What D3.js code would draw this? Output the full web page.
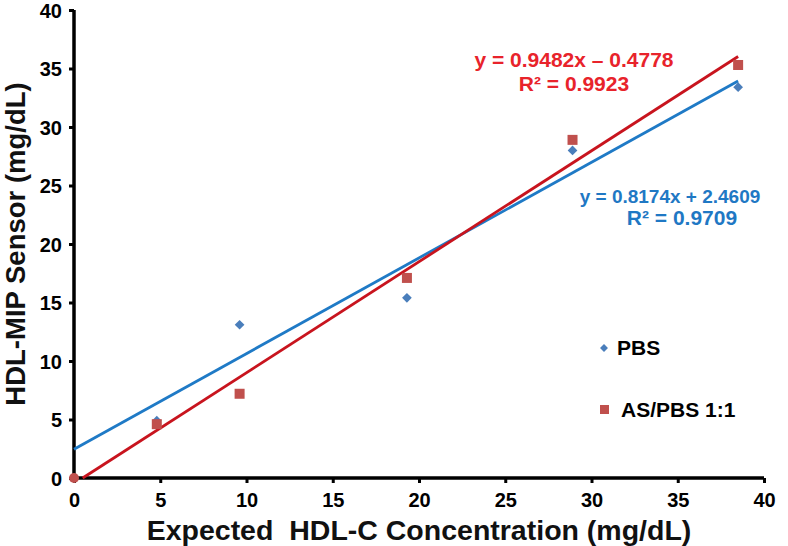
<!DOCTYPE html>
<html>
<head>
<meta charset="utf-8">
<script src="https://cdn.jsdelivr.net/npm/d3@7"></script>
<style>
  html, body { margin: 0; padding: 0; background: #fff; }
  svg { display: block; font-family: "Liberation Sans", Arial, sans-serif; }
</style>
</head>
<body>
<svg id="chart" width="788" height="546"></svg>
<script>
// ---- data ----
const expected = [0, 4.8, 9.6, 19.3, 28.9, 38.5];
const pbsValues = [0, 4.9, 13.1, 15.4, 28.0, 33.4];
const asPbsValues = [0, 4.6, 7.2, 17.1, 28.9, 35.3];
const seriesNames = ["PBS", "AS/PBS 1:1"];
const pbsFit = { slope: 0.8174, intercept: 2.4609, r2: 0.9709 };
const asPbsFit = { slope: 0.9482, intercept: -0.4778, r2: 0.9923 };
const xTicks = [0, 5, 10, 15, 20, 25, 30, 35, 40];
const yTicks = [0, 5, 10, 15, 20, 25, 30, 35, 40];
const xTitle = "Expected\u00A0\u00A0HDL-C Concentration (mg/dL)";
const yTitle = "HDL-MIP Sensor (mg/dL)";

// ---- layout ----
const svg = d3.select("#chart");
const x = d3.scaleLinear().domain([0, 40]).range([74, 764]);
const y = d3.scaleLinear().domain([0, 40]).range([478, 10]);

const blueLine = "#1f7ac6", redLine = "#c8141e";
const blueMark = "#4a7ebb", redMark = "#c0504d";
const blueText = "#1f78c4", redText = "#e8232b";

// axes
const xAxis = d3.axisBottom(x).tickValues(xTicks).tickSize(5).tickPadding(10).tickFormat(d3.format("d"));
const yAxis = d3.axisLeft(y).tickValues(yTicks).tickSize(5).tickPadding(7).tickFormat(d3.format("d"));

const gx = svg.append("g").attr("transform", `translate(0,${y(0)})`).call(xAxis);
const gy = svg.append("g").attr("transform", `translate(${x(0)},0)`).call(yAxis);
[gx, gy].forEach(g => {
  g.select(".domain").attr("stroke", "#000").attr("stroke-width", 3.5);
  g.selectAll(".tick line").attr("stroke", "#000").attr("stroke-width", 3);
  g.selectAll(".tick text").attr("fill", "#000").attr("font-size", 20).attr("font-weight", "bold")
    .attr("font-family", "Liberation Sans, Arial, sans-serif");
});
gx.select(".domain").attr("d", `M${x(0)},0H${x(40)}`);
gy.select(".domain").attr("d", `M0,${y(0)}V${y(40)}`);
gy.selectAll(".tick text").attr("dy", "0.36em");

// trend lines
function fitLine(fit, color) {
  const x0 = Math.max(0, -fit.intercept / fit.slope);
  const x1 = 38.5;
  svg.append("line")
    .attr("x1", x(x0)).attr("y1", y(fit.slope * x0 + fit.intercept))
    .attr("x2", x(x1)).attr("y2", y(fit.slope * x1 + fit.intercept))
    .attr("stroke", color).attr("stroke-width", 2.8);
}
fitLine(pbsFit, blueLine);
fitLine(asPbsFit, redLine);

// markers
const diamond = d3.symbol().type(d3.symbolDiamond2).size(60);
svg.append("g").selectAll("path").data(expected.map((e, i) => [e, pbsValues[i]]))
  .join("path")
  .attr("d", diamond)
  .attr("transform", d => `translate(${x(d[0])},${y(d[1])})`)
  .attr("fill", blueMark);

svg.append("g").selectAll("rect").data(expected.map((e, i) => [e, asPbsValues[i]]))
  .join("rect")
  .attr("x", d => x(d[0]) - 5).attr("y", d => y(d[1]) - 5)
  .attr("width", 10).attr("height", 10)
  .attr("rx", (d, i) => i === 0 ? 5 : 0)
  .attr("fill", redMark);

// equations
const fmt4 = d3.format(".4f");
function eqText(fit) {
  const sign = fit.intercept < 0 ? "\u2013" : "+";
  return `y = ${fmt4(fit.slope)}x ${sign} ${fmt4(Math.abs(fit.intercept))}`;
}
const eqG = svg.append("g").attr("font-weight", "bold").attr("text-anchor", "middle");
eqG.append("text").attr("x", 574).attr("y", 67).attr("font-size", 21).attr("fill", redText).text(eqText(asPbsFit));
eqG.append("text").attr("x", 574).attr("y", 91).attr("font-size", 21).attr("fill", redText).text(`R\u00B2 = ${asPbsFit.r2}`);
eqG.append("text").attr("x", 670).attr("y", 203).attr("font-size", 19).attr("fill", blueText).text(eqText(pbsFit));
eqG.append("text").attr("x", 682).attr("y", 225).attr("font-size", 21).attr("fill", blueText).text(`R\u00B2 = ${pbsFit.r2}`);

// legend
const lg = svg.append("g").attr("font-weight", "bold").attr("font-size", 21).attr("fill", "#000");
lg.append("path").attr("d", d3.symbol().type(d3.symbolDiamond2).size(40)).attr("transform", "translate(604,348)").attr("fill", blueMark);
lg.append("text").attr("x", 617).attr("y", 355).text(seriesNames[0]);
lg.append("rect").attr("x", 600).attr("y", 405).attr("width", 9).attr("height", 9).attr("fill", redMark);
lg.append("text").attr("x", 621).attr("y", 417).text(seriesNames[1]);

// axis titles
svg.append("text").attr("x", 419).attr("y", 540).attr("text-anchor", "middle")
  .attr("font-size", 28.5).attr("font-weight", "bold").attr("fill", "#111").text(xTitle);
svg.append("text").attr("transform", "translate(25,244) rotate(-90)").attr("text-anchor", "middle")
  .attr("font-size", 27.5).attr("font-weight", "bold").attr("fill", "#111").text(yTitle);
</script>
</body>
</html>
